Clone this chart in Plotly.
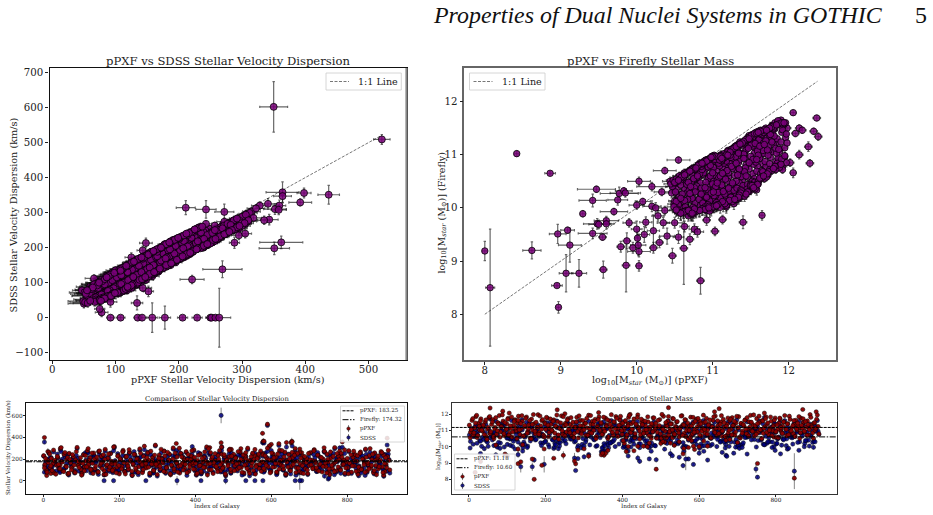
import plotly.graph_objects as go

W, H = 933, 515

# Galaxy catalogue index for the bulk of both samples
galaxy_id = [
    1,4,8,11,15,18,21,25,28,31, 35,38,42,45,48,52,55,59,62,65,
    68,72,75,79,82,85,89,92,96,99, 102,106,109,112,116,119,123,126,129,133,
    136,139,143,146,150,153,156,160,163,166, 170,173,177,180,183,187,190,194,197,200,
    204,207,210,214,217,221,224,227,231,234, 237,241,244,248,251,254,258,261,264,268,
    271,275,278,281,285,288,291,295,298,302, 305,308,312,315,318,322,325,329,332,335,
    339,342,345,349,352,356,359,362,366,369, 372,376,379,383,386,389,393,396,399,403,
    406,410,413,416,420,423,426,430,433,437, 440,443,447,450,453,457,460,464,467,470,
    474,477,480,484,487,491,494,497,501,504, 507,511,514,518,521,524,528,531,534,538,
    541,545,548,551,555,558,561,565,568,572, 575,578,582,585,588,592,595,599,602,605,
    609,612,615,619,622,626,629,632,636,639, 642,646,649,653,656,659,663,666,669,673,
    676,680,683,686,690,693,696,700,703,707, 710,713,717,720,723,727,730,734,737,740,
    744,747,750,754,757,761,764,767,771,774, 777,781,784,788,791,794,798,801,804,808,
    811,815,818,821,825,828,831,835,838,842, 845,848,852,855,858,862,865,869,872,875,
    879,882,885,889,892,896,899,902,906,910,
]
galaxy_id_b = [
    3,6,10,13,17,20,23,27,30,33, 37,40,44,47,50,54,57,61,64,67,
    70,74,77,81,84,87,91,94,98,101, 104,108,111,114,118,121,125,128,131,135,
    138,141,145,148,152,155,158,162,165,168, 172,175,179,182,185,189,192,196,199,202,
    206,209,212,216,219,223,226,229,233,236, 239,243,246,250,253,256,260,263,266,270,
    273,277,280,283,287,290,293,297,300,304, 307,310,314,317,320,324,327,331,334,337,
    341,344,347,351,354,358,361,364,368,371, 374,378,381,385,388,391,395,398,401,405,
    408,412,415,418,422,425,428,432,435,439, 442,445,449,452,455,459,462,466,469,472,
    476,479,482,486,489,493,496,499,503,506, 509,513,516,520,523,526,530,533,536,540,
    543,547,550,553,557,560,563,567,570,574, 577,580,584,587,590,594,597,601,604,607,
    611,614,617,621,624,628,631,634,638,641, 644,648,651,655,658,661,665,668,671,675,
    678,682,685,688,692,695,698,702,705,709, 712,715,719,722,725,729,732,736,739,742,
    746,749,752,756,759,763,766,769,773,776, 779,783,786,790,793,796,800,803,806,810,
    813,817,820,823,827,830,833,837,840,844, 847,850,854,857,860,864,867,871,874,877,
    881,884,887,891,894,898,901,904,908,912,
]

# Stellar velocity dispersion, km/s
sigma_ppxf = [
    231,148,96,187,264,121,205,158,72,183, 142,215,110,298,176,88,243,133,196,60,
    252,165,119,222,84,191,307,139,171,103, 68,238,127,181,276,150,211,94,160,255,
    113,198,77,270,145,226,169,56,289,136, 208,101,248,154,87,315,174,124,234,62,
    192,130,280,82,219,156,106,261,178,49, 145,241,98,203,128,294,166,74,225,186,
    117,257,189,64,152,213,90,328,137,172, 236,108,200,162,272,79,125,184,246,54,
    141,303,92,177,219,131,70,252,159,207, 116,268,195,85,148,229,169,285,104,58,
    188,134,242,76,173,216,122,312,155,99, 259,201,66,143,182,111,233,278,93,167,
    127,223,52,194,149,291,83,175,244,138, 210,105,163,266,120,186,72,228,151,300,
    89,179,135,254,197,61,146,221,112,274, 170,237,100,156,205,129,322,81,190,248,
    126,218,75,161,283,143,192,107,263,57, 183,239,95,134,212,168,297,118,250,86,
    153,71,227,176,110,204,65,139,260,190, 123,287,164,97,232,147,216,80,199,271,
    131,245,174,55,208,114,158,306,91,185, 225,102,253,144,193,69,172,120,277,160,
    78,214,137,240,181,59,126,265,109,202, 166,292,88,150,230,119,195,73,257,141,
    207,109,179,269,128,235,83,154,220,186,
]
sigma_sdss = [
    226,139,104,195,251,108,212,150,80,170, 151,208,94,284,183,96,237,118,204,66,
    246,172,127,205,71,186,296,146,160,112, 58,244,136,190,262,143,201,108,167,231,
    99,204,88,266,131,219,176,52,272,144, 196,116,254,162,74,303,163,109,228,74,
    199,117,271,90,226,141,118,256,185,47, 155,226,82,211,140,281,151,84,233,176,
    126,263,180,55,138,220,102,320,123,181, 221,93,207,170,274,68,112,193,239,62,
    128,290,103,165,229,140,82,243,148,215, 103,259,202,98,157,214,178,276,91,50,
    177,145,249,65,162,222,133,299,164,111, 249,192,78,132,190,120,240,260,80,155,
    116,209,44,201,160,280,70,186,232,148, 218,90,171,258,132,175,60,235,138,288,
    100,188,122,247,184,70,136,229,122,255, 158,224,88,165,214,118,312,92,199,235,
    138,204,64,149,270,153,181,96,251,68, 192,245,107,122,200,177,276,129,241,72,
    142,83,213,165,123,195,56,150,252,178, 111,278,173,84,240,135,206,93,187,262,
    142,236,184,63,219,100,146,294,78,174, 232,115,242,155,183,58,163,107,268,150,
    66,203,148,225,172,70,137,247,96,193, 175,283,76,139,218,130,205,85,250,130,
    198,121,169,255,116,243,95,143,228,195,
]
sigma_ppxf_err = [
    11,9,14,8,12,10,9,13,17,10, 12,8,13,11,9,16,10,12,8,20,
    11,9,14,10,15,8,12,11,9,13, 19,10,12,9,13,11,8,15,10,12,
    14,9,18,11,12,10,9,22,13,11, 8,15,10,12,16,14,9,13,11,21,
    10,12,11,16,9,10,14,12,9,24, 11,10,15,8,13,12,9,18,10,9,
    14,11,8,20,12,9,15,13,11,10, 9,14,8,11,12,17,13,9,10,23,
    11,12,15,10,8,13,19,11,9,8, 14,13,9,16,12,10,9,12,15,21,
    8,12,10,18,9,10,13,12,11,14, 11,9,19,12,9,14,10,13,15,11,
    13,8,24,10,12,14,16,9,11,12, 8,14,11,12,13,9,18,10,12,13,
    15,9,12,10,8,20,12,9,14,12, 10,9,14,11,8,13,14,16,9,11,
    13,8,18,11,13,12,10,14,11,22, 9,10,15,13,8,11,12,13,10,16,
    11,19,9,10,14,8,20,12,11,9, 13,12,10,15,9,12,8,17,9,11,
    12,10,9,23,8,14,10,13,15,9, 8,14,11,12,9,19,10,13,12,11,
    17,8,12,10,9,21,13,11,14,8, 10,12,15,12,9,13,8,18,11,12,
    8,14,9,12,13,10,16,11,9,9,
]
sigma_sdss_err = [
    8,7,9,6,9,8,7,7,10,6, 8,7,9,10,7,10,8,8,6,11,
    9,6,8,7,10,7,11,8,7,9, 11,9,8,7,10,8,6,10,7,9,
    8,7,11,9,8,8,7,12,10,8, 7,9,9,8,10,11,7,9,8,11,
    7,8,10,10,7,8,9,8,7,12, 8,7,10,6,9,10,7,10,8,6,
    9,9,7,11,8,7,10,11,8,7, 8,9,7,7,10,11,9,6,9,12,
    8,10,10,7,7,8,11,9,7,6, 9,10,7,11,8,7,7,10,9,12,
    6,9,8,10,7,7,9,11,8,9, 10,7,11,8,7,9,8,10,9,7,
    9,7,12,7,8,10,10,7,8,8, 7,9,7,9,9,7,11,8,8,10,
    10,6,9,8,7,11,8,7,10,9, 7,8,10,8,7,9,11,10,7,9,
    9,7,11,8,10,8,6,9,10,12, 7,8,10,9,7,7,10,9,8,10,
    8,11,7,8,9,7,11,9,10,7, 8,10,7,10,8,9,7,11,7,9,
    9,8,7,12,7,9,8,11,10,7, 7,10,9,8,7,11,7,9,10,8,
    10,7,9,8,6,12,9,9,10,7, 7,10,10,8,8,9,7,10,9,9,
    7,9,7,9,8,8,10,9,7,7,
]

# Second batch: galaxies spread further from the 1:1 line
sigma_ppxf_b = [
    118,205,78,166,246,137,93,282,187,60, 224,150,110,305,171,84,260,128,214,69,
    195,99,240,143,73,268,176,122,212,51, 158,90,232,128,296,185,105,255,66,201,
    135,218,81,275,162,112,239,197,58,148, 247,125,180,95,310,154,72,226,140,203,
    108,265,168,62,222,134,286,190,87,156, 243,115,199,76,178,253,146,102,318,161,
    214,124,70,272,184,96,236,152,56,208, 133,290,173,85,228,119,262,193,64,144,
    200,110,255,167,79,300,138,220,98,183, 151,74,242,127,191,276,106,215,162,68,
    233,141,88,206,122,266,179,53,295,157, 100,218,169,250,130,83,198,147,310,115,
    240,63,187,136,282,104,226,174,92,209, 155,269,121,196,77,238,143,258,112,182,
    67,221,165,94,288,129,204,245,152,86, 175,113,229,140,300,192,72,256,124,211,
    159,81,247,106,186,278,135,219,60,170, 126,202,91,261,149,234,75,177,116,292,
    208,138,66,223,168,98,251,190,145,111, 275,180,120,237,89,154,213,131,304,164,
    71,197,108,265,142,225,83,172,250,127, 193,97,218,152,284,117,206,64,161,239,
    136,272,180,86,230,125,254,103,199,147, 77,216,170,108,296,141,245,93,185,55,
    228,129,188,258,74,160,212,119,280,99,
]
sigma_sdss_b = [
    78,172,108,188,208,100,125,265,150,88, 245,120,75,268,198,112,222,158,236,52,
    158,130,205,168,95,232,205,88,176,72, 118,122,258,92,255,212,72,218,92,225,
    165,182,58,240,192,140,200,225,80,108, 212,85,145,128,275,185,100,250,102,168,
    138,230,132,84,188,98,250,218,60,188, 268,78,165,55,210,215,112,132,285,125,
    240,155,48,238,150,70,200,180,42,172, 95,255,202,118,195,148,228,160,90,175,
    228,75,220,135,104,262,105,245,130,150, 182,48,205,156,222,242,135,180,128,96,
    258,108,62,172,88,230,208,68,258,122, 135,185,198,215,160,110,165,115,278,82,
    205,82,218,102,248,70,252,140,122,175, 122,235,150,225,52,200,172,222,142,148,
    45,190,195,66,252,96,232,210,118,116, 142,78,255,170,270,160,98,218,155,178,
    188,55,212,138,215,245,100,188,48,138, 158,170,62,225,178,198,50,208,82,258,
    235,108,95,190,135,128,218,158,172,142, 240,210,85,260,118,125,182,162,270,132,
    92,165,138,232,110,252,55,200,212,95, 222,68,185,180,250,148,175,86,130,205,
    168,238,150,115,198,92,222,72,228,116, 48,242,140,134,262,172,210,62,215,78,
    195,160,155,225,100,190,240,88,245,70,
]
sigma_ppxf_err_b = [
    14,9,18,11,10,13,16,9,10,22, 8,12,14,10,9,17,11,13,9,20,
    10,15,9,13,18,12,9,14,8,24, 11,16,9,13,12,8,15,11,19,9,
    13,8,17,12,10,14,9,8,22,12, 10,14,9,15,13,11,19,9,13,8,
    15,11,10,21,8,13,12,9,17,11, 9,14,8,19,9,11,12,15,13,10,
    8,13,20,12,9,16,10,11,23,9, 12,11,9,17,8,14,10,9,20,13,
    8,15,11,10,18,13,12,9,16,9, 11,19,9,13,8,12,14,9,10,21,
    9,12,17,8,14,12,9,24,13,10, 15,8,9,11,13,17,8,12,14,15,
    10,21,9,13,11,16,8,10,16,9, 11,12,14,8,19,9,12,10,15,9,
    20,8,11,16,12,13,9,10,11,17, 9,15,8,12,13,9,19,11,13,8,
    11,18,10,15,9,12,13,8,22,10, 14,8,17,11,12,9,19,10,15,13,
    8,13,20,9,10,16,11,9,12,15, 12,9,14,9,17,11,8,13,14,10,
    19,8,15,12,12,9,18,10,11,14, 9,15,8,12,12,14,10,21,10,9,
    13,11,9,17,8,14,11,15,9,12, 19,8,10,15,13,12,10,16,9,23,
    8,13,9,11,19,10,8,14,12,15,
]
sigma_sdss_err_b = [
    10,7,11,8,9,10,11,7,9,12, 7,9,10,9,8,11,8,10,7,11,
    8,10,7,9,12,9,7,11,6,12, 9,11,7,10,9,7,10,9,11,7,
    10,6,11,9,8,10,7,7,12,9, 8,11,7,10,9,8,12,7,10,6,
    11,8,9,12,7,10,9,7,11,8, 7,10,6,12,7,9,10,11,9,8,
    7,9,12,10,7,11,8,9,12,7, 10,8,7,11,6,10,8,7,12,9,
    7,11,9,8,12,9,10,7,11,7, 9,12,8,9,6,10,11,7,8,11,
    7,9,12,6,10,9,7,12,9,8, 11,7,7,9,10,12,7,10,11,10,
    8,11,7,10,9,11,6,8,10,7, 9,10,9,7,12,8,10,7,10,8,
    12,7,9,11,10,9,7,8,9,11, 8,11,6,9,10,7,11,9,10,7,
    9,11,8,10,7,10,9,6,12,8, 10,7,11,9,9,7,11,8,10,9,
    7,10,12,7,8,11,9,7,9,10, 9,7,10,8,11,8,7,10,10,9,
    11,7,10,10,9,7,11,8,9,10, 7,11,7,9,9,10,8,11,8,7,
    9,9,7,11,7,10,9,10,7,9, 12,7,8,10,9,9,8,11,7,12,
    7,10,8,9,11,8,7,10,9,10,
]

# Catalogue entries that sit away from the main relation
sigma_out_id = [468,590,577,3,905,579,581,654,652,12,490,392,470,780,620,640,655,787,350,600,
                395,305,118,20,9,896,750,752,160,185,270,415,352,480,533,557,578,663,680,675,
                740,290,830,44,495,520,438]
sigma_out_ppxf = [350,521,437,398,392,364,364,362,351,269,221,211,243,272,341,352,359,358,343,335,
                  148,143,125,66,47,50,78,75,92,108,135,142,158,178,206,229,250,252,258,264,
                  134,152,92,143,288,295,305]
sigma_out_sdss = [602,509,351,356,329,358,347,215,198,138,109,314,309,302,325,310,320,308,280,278,
                  213,192,172,112,78,40,15,25,0,0,0,0,0,0,0,0,0,0,0,0,
                  42,75,45,85,214,235,240]
sigma_out_ppxf_err = [22,13,17,11,18,26,14,34,24,31,19,15,16,15,14,18,10,12,14,10,
                      10,9,10,14,10,25,10,8,6,7,6,7,8,9,8,8,7,9,9,18,
                      9,8,10,14,8,12,10]
sigma_out_sdss_err = [72,14,27,14,10,30,18,18,18,24,12,20,25,22,15,15,16,14,15,12,
                      14,12,13,10,10,12,12,15,7,6,7,7,42,33,5,6,6,7,7,84,
                      20,15,15,10,16,12,12]

# Stellar mass, log10(M/Msun)
mass_ppxf = [
    11.32,10.88,11.61,10.72,11.15,11.84,10.56,11.43,11.02,11.71, 10.95,11.27,11.52,10.63,11.09,11.78,10.81,11.36,11.66,10.49,
    11.19,10.77,11.48,11.91,10.91,11.24,11.57,10.68,11.05,11.39, 11.74,10.84,11.12,10.59,11.31,11.63,10.98,11.45,11.87,10.74,
    11.08,11.55,10.66,11.21,11.82,10.93,11.34,10.52,11.69,11.01, 11.41,10.79,11.17,11.96,10.87,11.28,11.59,10.71,11.47,11.06,
    11.76,10.61,11.13,11.37,10.96,11.65,10.83,11.23,11.53,10.46, 11.11,11.89,10.75,11.29,11.43,10.90,11.72,11.03,11.35,10.65,
    11.50,10.82,11.20,11.80,10.54,11.07,11.62,10.97,11.30,11.44, 10.70,11.16,11.93,10.86,11.38,11.56,11.00,11.68,10.62,11.26,
    11.83,10.94,11.42,10.78,11.10,11.75,11.33,10.50,11.58,11.04, 11.22,10.69,11.49,11.85,10.89,11.14,11.64,11.37,10.76,11.01,
    11.54,10.58,11.25,11.79,10.92,11.40,11.06,11.70,10.80,11.31, 11.95,11.18,10.73,11.46,11.60,10.99,11.28,10.85,11.52,11.09,
    10.64,11.35,11.77,11.03,11.44,10.88,11.21,11.66,10.53,11.13, 11.86,10.95,11.32,11.57,10.72,11.08,11.41,11.73,10.81,11.24,
    11.51,11.00,10.60,11.19,11.90,11.36,10.84,11.63,11.15,10.47, 11.27,11.81,10.77,11.43,11.05,11.69,10.91,11.33,11.55,10.67,
    11.12,11.47,10.83,11.74,11.02,11.39,10.55,11.23,11.61,10.97, 11.88,10.74,11.29,11.11,11.50,10.93,11.67,11.20,10.63,11.37,
    10.86,11.59,11.07,11.78,11.30,10.70,11.46,11.16,11.84,10.52, 11.42,10.96,11.25,11.65,10.79,11.10,11.53,11.92,11.00,11.34,
    10.66,11.18,11.72,10.90,11.48,11.04,11.60,10.82,11.22,11.83, 11.38,10.75,11.14,11.56,10.98,11.31,11.76,10.58,11.06,11.44,
    11.70,10.87,11.26,11.52,11.09,10.68,11.41,11.87,10.94,11.17, 10.80,11.35,11.62,11.03,11.28,10.51,11.75,11.13,11.49,10.92,
    11.21,11.58,10.71,11.97,11.33,10.85,11.45,11.01,11.68,11.24,
]
mass_firefly = [
    10.71,10.32,11.12,10.15,10.62,11.23,10.21,10.94,10.38,11.31, 10.58,10.44,10.87,10.36,10.27,11.05,10.56,10.66,10.83,10.07,
    10.81,10.09,10.73,11.42,10.22,10.95,11.27,9.98,10.71,10.52, 11.08,10.47,10.49,10.52,10.33,10.97,10.74,11.15,10.91,10.61,
    10.13,11.03,10.28,10.58,11.49,10.04,10.85,10.35,11.18,10.51, 10.63,10.41,10.91,11.32,10.63,10.24,10.78,10.24,11.21,10.35,
    10.95,10.12,10.76,11.02,10.44,11.37,10.19,10.41,10.64,10.28, 10.24,11.11,10.53,10.87,10.39,10.72,11.44,10.61,10.47,10.46,
    10.97,10.29,10.35,11.19,10.07,10.84,10.93,10.14,11.06,10.81, 10.41,10.67,11.55,10.11,10.59,11.14,10.45,11.02,10.58,10.74,
    10.87,10.55,11.04,9.96,10.19,11.36,11.11,10.13,10.69,10.23, 10.29,10.33,10.45,11.30,10.81,10.99,11.25,10.70,10.38,10.76,
    10.82,10.43,11.06,11.41,10.31,10.42,10.52,10.77,10.67,10.50, 11.13,10.17,10.18,10.58,11.33,10.89,10.33,10.37,11.16,10.79,
    10.02,10.90,11.27,10.08,11.09,10.66,10.66,11.08,10.50,10.39, 10.94,10.28,10.37,10.86,10.49,10.57,11.01,10.99,10.74,10.21,
    11.20,10.18,10.26,10.70,11.24,10.25,10.05,10.64,10.84,10.40, 10.92,11.35,10.30,10.75,10.92,10.87,10.48,10.98,10.55,10.16,
    10.43,11.12,10.64,11.17,10.23,11.18,10.06,10.83,11.28,10.60, 11.06,10.01,10.61,11.00,10.33,10.35,11.22,10.50,10.14,10.34,
    10.72,11.07,10.29,11.24,10.96,10.27,10.44,10.26,11.03,10.12, 10.68,10.13,10.78,10.70,10.57,10.60,10.91,11.47,10.66,11.03,
    10.44,10.88,11.09,10.38,10.85,10.40,10.99,10.16,10.12,11.12, 10.21,10.55,10.31,11.21,10.28,10.84,11.38,10.18,10.47,10.60,
    11.26,10.09,10.47,10.50,10.86,10.48,10.93,11.10,10.77,10.54, 10.60,10.73,11.16,10.88,11.13,10.30,10.83,10.65,11.29,10.20,
    10.37,10.91,10.40,11.39,10.62,10.26,10.35,10.30,11.19,10.95,
]
mass_ppxf_err = [
    .04,.05,.03,.06,.04,.03,.07,.04,.05,.03, .05,.04,.03,.06,.05,.03,.06,.04,.03,.08,
    .04,.06,.03,.03,.05,.04,.03,.07,.05,.04, .03,.06,.04,.07,.04,.03,.05,.04,.03,.06,
    .05,.03,.07,.04,.03,.05,.04,.08,.03,.05, .04,.06,.04,.03,.05,.04,.03,.06,.04,.05,
    .03,.07,.05,.04,.05,.03,.06,.04,.03,.09, .05,.03,.06,.04,.04,.05,.03,.05,.04,.07,
    .03,.06,.04,.03,.08,.05,.03,.05,.04,.04, .06,.05,.03,.06,.04,.03,.05,.03,.07,.04,
    .03,.05,.04,.06,.05,.03,.04,.08,.03,.05, .04,.07,.03,.03,.05,.05,.03,.04,.06,.05,
    .03,.07,.04,.03,.05,.04,.05,.03,.06,.04, .03,.05,.06,.04,.03,.05,.04,.05,.03,.05,
    .07,.04,.03,.05,.04,.05,.04,.03,.08,.05, .03,.05,.04,.03,.06,.05,.04,.03,.06,.04,
    .03,.05,.07,.04,.03,.04,.06,.03,.05,.09, .04,.03,.06,.04,.05,.03,.05,.04,.03,.07,
    .05,.04,.06,.03,.05,.04,.08,.04,.03,.05, .03,.06,.04,.05,.03,.05,.03,.04,.07,.04,
    .06,.03,.05,.03,.04,.07,.04,.05,.03,.08, .04,.05,.04,.03,.06,.05,.03,.03,.05,.04,
    .07,.04,.03,.05,.04,.03,.03,.06,.05,.03, .04,.06,.05,.03,.05,.04,.03,.07,.05,.04,
    .03,.06,.04,.04,.05,.07,.04,.03,.05,.05, .06,.04,.03,.05,.04,.08,.03,.05,.04,.05,
    .04,.03,.06,.03,.04,.06,.04,.05,.03,.04,
]
mass_firefly_err = [
    .06,.07,.04,.09,.05,.05,.10,.04,.08,.05, .07,.06,.05,.09,.06,.04,.08,.05,.06,.12,
    .05,.10,.06,.04,.09,.05,.04,.13,.05,.07, .05,.08,.07,.09,.06,.05,.06,.04,.05,.07,
    .11,.04,.09,.06,.04,.12,.05,.10,.05,.07, .06,.08,.05,.05,.07,.08,.06,.10,.04,.08,
    .05,.11,.06,.05,.08,.04,.10,.07,.06,.09, .08,.05,.07,.05,.08,.06,.04,.07,.06,.09,
    .05,.09,.08,.05,.12,.05,.06,.11,.05,.06, .08,.06,.04,.12,.07,.05,.07,.05,.09,.06,
    .06,.08,.05,.13,.10,.04,.05,.11,.06,.09, .08,.09,.07,.05,.06,.05,.04,.06,.09,.06,
    .05,.10,.05,.04,.08,.07,.07,.06,.07,.08, .05,.11,.11,.07,.05,.06,.08,.08,.05,.06,
    .12,.05,.04,.11,.05,.07,.06,.05,.09,.08, .06,.09,.08,.06,.08,.07,.05,.05,.06,.10,
    .05,.11,.09,.06,.04,.09,.12,.06,.05,.09, .05,.04,.09,.06,.05,.06,.08,.05,.07,.11,
    .08,.05,.07,.04,.10,.05,.12,.05,.05,.06, .05,.13,.06,.07,.08,.08,.04,.07,.10,.08,
    .06,.05,.10,.04,.05,.11,.06,.07,.05,.12, .07,.11,.05,.06,.07,.07,.05,.04,.07,.05,
    .09,.06,.05,.09,.05,.08,.05,.11,.11,.05, .09,.07,.09,.04,.10,.06,.04,.11,.08,.07,
    .04,.12,.07,.06,.05,.08,.05,.05,.06,.07, .07,.06,.05,.06,.04,.10,.06,.07,.04,.10,
    .08,.06,.09,.04,.06,.09,.07,.09,.05,.05,
]

# Second batch, covering the full width of the mass relation
mass_ppxf_b = [
    10.55,11.05,11.72,10.85,11.45,11.92,10.68,11.25,11.58,11.02, 11.33,10.74,11.64,10.45,11.18,11.85,10.92,11.52,10.62,11.10,
    11.78,10.98,11.38,10.58,11.22,11.95,10.80,11.48,11.08,11.68, 10.70,11.28,11.82,10.90,11.55,11.15,10.50,11.62,11.03,11.42,
    11.90,10.65,11.30,11.75,10.82,11.12,11.60,10.48,11.36,11.97, 10.95,11.50,11.20,10.76,11.88,11.07,11.66,10.60,11.40,11.80,
    11.32,10.87,11.70,11.01,11.56,10.53,11.26,11.94,10.72,11.14, 11.46,10.97,11.84,10.66,11.34,11.63,11.09,10.85,11.78,11.23,
    10.57,11.17,11.52,10.92,11.89,11.29,10.78,11.60,11.04,11.43, 11.73,10.69,11.12,11.91,10.83,11.37,11.55,10.49,11.19,11.67,
    11.02,11.47,10.75,11.81,10.94,11.24,11.65,10.61,11.36,11.96, 10.88,11.53,11.10,11.74,10.63,11.31,11.86,10.99,11.44,11.16,
    11.60,10.73,11.27,11.92,10.86,11.08,11.50,10.56,11.39,11.79, 11.13,10.96,11.69,11.35,10.81,11.57,11.05,11.83,10.67,11.21,
    11.42,10.91,11.77,11.18,10.52,11.61,11.29,10.79,11.98,11.07, 10.64,11.48,11.24,11.85,10.93,11.38,11.03,11.71,10.75,11.15,
    11.54,10.84,11.11,11.88,10.69,11.33,11.66,10.98,11.45,11.00, 10.59,11.26,11.80,10.89,11.56,11.19,11.73,10.71,11.40,10.95,
    11.93,11.06,11.51,10.77,11.32,11.64,10.54,11.22,11.83,10.87, 11.14,11.59,10.80,11.37,11.90,10.97,11.47,10.62,11.25,11.76,
    11.01,11.68,10.72,11.30,11.55,10.90,11.86,11.16,10.58,11.43, 10.83,11.35,11.62,11.09,11.78,10.66,11.20,11.50,10.94,11.95,
    11.28,10.76,11.41,11.87,11.04,10.50,11.58,11.13,11.72,10.88, 11.46,11.00,11.82,10.68,11.23,11.63,10.92,11.34,10.55,11.75,
    11.18,10.81,11.52,11.91,11.07,11.39,10.73,11.67,10.98,11.29, 11.60,10.63,11.10,11.44,11.84,10.86,11.31,11.71,10.95,11.54,
    10.70,11.36,11.05,11.80,11.20,10.52,11.48,11.12,11.94,10.78,
]
mass_firefly_b = [
    9.92,10.95,10.62,10.82,11.28,10.78,10.68,11.05,10.34,10.02, 11.16,9.88,11.38,10.45,10.02,10.84,10.86,10.41,10.64,10.90,
    11.55,9.97,10.26,9.90,11.02,10.96,10.78,11.36,10.84,10.55, 10.70,10.08,11.60,10.02,10.48,10.94,10.47,11.40,10.93,11.22,
    11.65,9.95,10.15,10.72,9.95,10.88,11.44,10.52,11.24,10.85, 10.92,10.44,11.08,10.72,10.80,10.07,10.68,10.62,10.30,11.48,
    11.18,9.98,11.50,10.97,10.40,9.98,10.12,11.58,9.88,10.04, 11.32,10.80,10.75,10.66,10.18,11.46,10.98,10.78,10.70,10.99,
    10.56,10.96,11.38,9.95,11.56,11.14,9.93,10.50,10.04,10.28, 10.62,10.68,10.90,10.92,10.84,11.20,10.42,10.02,10.06,11.42,
    10.99,11.30,9.92,11.52,10.06,11.10,10.58,9.93,10.22,11.60, 10.85,11.34,10.01,10.68,10.66,10.16,11.62,10.97,11.26,10.08,
    10.45,10.74,11.12,10.72,9.98,10.93,10.36,10.60,11.22,11.54, 10.98,9.94,10.60,11.20,10.81,11.42,10.10,10.78,9.94,11.06,
    10.22,10.90,11.52,10.05,10.54,10.52,11.15,10.76,11.22,10.95, 10.63,11.33,10.20,11.58,10.91,10.32,10.91,10.58,10.74,11.02,
    10.42,10.82,10.98,10.76,9.96,11.18,11.46,10.00,11.28,10.97, 10.58,11.10,11.50,10.88,10.36,10.12,11.48,9.90,11.24,10.03,
    11.60,10.06,11.36,10.73,11.14,10.56,10.50,10.14,10.72,10.83, 10.96,10.44,10.78,10.28,10.82,10.93,10.30,9.92,11.10,11.50,
    10.02,11.47,10.71,11.16,11.40,9.97,11.64,10.08,9.90,11.28, 9.95,10.24,10.56,10.90,11.52,10.65,11.06,10.42,10.90,10.98,
    11.12,9.98,11.25,11.58,10.97,10.48,11.40,10.12,10.64,10.85, 10.30,10.96,10.78,9.95,11.05,11.44,10.88,10.20,10.52,11.50,
    11.00,10.80,10.42,11.60,10.06,11.22,9.90,10.60,10.95,10.16, 11.42,10.62,10.96,10.26,11.56,10.84,11.15,11.46,10.00,10.38,
    10.69,11.20,10.04,10.74,10.99,9.96,11.30,10.93,11.60,10.75,
]
mass_ppxf_err_b = [
    .08,.04,.03,.05,.04,.03,.07,.04,.03,.05, .04,.06,.03,.09,.04,.03,.05,.03,.07,.05,
    .03,.05,.04,.08,.05,.03,.06,.04,.05,.03, .07,.04,.03,.05,.03,.04,.09,.03,.05,.04,
    .03,.07,.05,.03,.06,.05,.03,.09,.04,.03, .05,.03,.04,.06,.03,.05,.03,.08,.04,.03,
    .04,.06,.03,.05,.03,.08,.04,.03,.07,.05, .04,.05,.03,.07,.04,.03,.05,.06,.03,.04,
    .08,.04,.03,.05,.03,.04,.06,.03,.05,.04, .03,.07,.05,.03,.06,.04,.03,.09,.04,.03,
    .05,.03,.06,.03,.05,.04,.03,.08,.04,.03, .06,.03,.05,.03,.07,.04,.03,.05,.03,.05,
    .03,.06,.04,.03,.06,.05,.03,.08,.04,.03, .05,.05,.03,.04,.06,.03,.05,.03,.07,.04,
    .04,.05,.03,.04,.09,.03,.04,.06,.03,.05, .07,.03,.04,.03,.05,.04,.05,.03,.06,.04,
    .03,.06,.05,.03,.07,.04,.03,.05,.03,.05, .08,.04,.03,.05,.03,.04,.03,.07,.04,.05,
    .03,.05,.03,.06,.04,.03,.08,.04,.03,.06, .05,.03,.06,.04,.03,.05,.03,.07,.04,.03,
    .05,.03,.07,.04,.03,.05,.03,.04,.08,.04, .06,.04,.03,.05,.03,.07,.04,.03,.05,.03,
    .04,.06,.04,.03,.05,.09,.03,.04,.03,.05, .03,.05,.03,.07,.04,.03,.05,.04,.08,.03,
    .04,.06,.03,.03,.05,.04,.06,.03,.05,.04, .03,.07,.05,.03,.03,.06,.04,.03,.05,.03,
    .07,.04,.05,.03,.04,.09,.03,.05,.03,.06,
]
mass_firefly_err_b = [
    .12,.05,.07,.06,.05,.08,.07,.05,.10,.11, .05,.13,.04,.08,.12,.07,.05,.09,.06,.05,
    .04,.12,.10,.13,.05,.08,.06,.04,.05,.07, .07,.11,.04,.11,.08,.05,.08,.04,.05,.05,
    .04,.12,.11,.07,.12,.05,.04,.08,.05,.08, .05,.09,.05,.06,.07,.10,.07,.07,.10,.04,
    .05,.11,.04,.05,.09,.12,.10,.04,.13,.11, .05,.06,.08,.07,.11,.04,.05,.07,.07,.05,
    .08,.05,.04,.12,.04,.05,.12,.08,.11,.10, .07,.07,.06,.06,.07,.05,.09,.11,.10,.04,
    .05,.04,.12,.04,.11,.05,.07,.12,.10,.04, .06,.04,.11,.07,.07,.10,.04,.05,.05,.10,
    .09,.07,.05,.07,.12,.05,.10,.06,.05,.04, .05,.12,.07,.05,.06,.04,.10,.07,.12,.05,
    .10,.05,.04,.11,.08,.08,.05,.07,.06,.05, .07,.04,.10,.04,.05,.09,.05,.07,.07,.05,
    .09,.06,.05,.07,.12,.05,.04,.11,.05,.05, .07,.05,.04,.06,.09,.10,.04,.13,.05,.11,
    .04,.11,.04,.07,.05,.07,.08,.10,.07,.06, .05,.09,.07,.09,.07,.05,.09,.12,.05,.11,
    .11,.04,.07,.05,.04,.12,.04,.10,.13,.05, .12,.10,.07,.05,.04,.07,.05,.09,.05,.07,
    .05,.12,.05,.04,.05,.08,.04,.10,.07,.06, .09,.05,.07,.12,.05,.04,.05,.10,.08,.04,
    .05,.07,.09,.04,.11,.05,.13,.07,.05,.10, .04,.07,.05,.10,.04,.06,.05,.04,.11,.09,
    .07,.05,.11,.07,.05,.12,.05,.05,.04,.07,
]

# Low-mass and scattered entries of the stellar-mass comparison
mass_out_id = [170,848,16,488,190,278,752,128,30,135,275,165,221,100,246,312,352,345,94,558,
               356,348,410,430,362,284,588,128,196,300,560,572,585,600,415,440,622,455,465,535,
               70,140,500,405,470,525,510,548,505,580,402,670,680,445,475,515,530,565,660,672,
               690,725,748,798,812,860,415,120,770,55,652,520,870,230,105,905,338,640,88,250,
               420,700,612,795,830]
mass_out_ppxf = [8.00,8.07,8.42,8.62,8.86,8.95,8.97,8.96,9.09,9.07,9.12,9.24,9.29,9.42,9.47,9.42,9.48,9.50,9.55,9.56,
                 9.60,9.60,9.70,9.75,9.77,9.79,9.83,9.85,9.86,9.87,9.90,9.95,10.03,10.00,10.01,10.02,10.03,10.03,10.00,10.08,
                 10.10,10.12,10.20,10.20,10.22,10.22,10.28,10.30,10.33,10.37,10.37,10.40,10.44,10.47,10.50,10.55,10.55,10.62,10.63,10.70,
                 10.76,10.80,10.84,10.92,11.03,11.13,11.40,11.65,12.06,12.37,12.33,12.39,12.28,12.26,12.06,12.14,12.09,12.14,12.18,12.02,
                 11.98,10.25,10.35,10.58,10.68]
mass_out_firefly = [9.19,8.50,11.02,9.20,10.65,8.54,8.13,9.51,9.58,8.77,9.30,8.77,9.89,10.14,10.35,9.52,9.70,9.69,9.45,8.84,
                    9.76,9.70,9.93,10.15,10.27,9.27,10.32,10.28,8.92,9.38,9.72,9.25,8.91,9.60,9.43,9.30,9.18,10.50,10.05,10.12,
                    9.50,9.73,10.40,10.03,9.25,9.57,9.85,9.35,10.30,10.70,9.95,9.47,10.50,9.10,9.72,10.90,9.45,9.24,9.65,9.41,
                    9.60,9.55,8.63,9.77,9.56,9.78,9.73,9.86,11.79,11.69,11.44,11.34,10.84,11.15,10.66,11.00,11.40,11.50,11.46,10.85,
                    11.50,10.00,9.72,10.00,9.85]
mass_out_ppxf_err = [.03,.06,.03,.12,.07,.07,.03,.11,.09,.09,.15,.10,.03,.18,.25,.19,.18,.13,.05,.05,
                     .16,.10,.18,.13,.25,.05,.11,.20,.05,.05,.08,.05,.04,.07,.03,.10,.15,.15,.10,.10,
                     .07,.08,.20,.12,.05,.08,.08,.05,.10,.15,.10,.10,.10,.05,.10,.15,.07,.05,.06,.05,
                     .07,.08,.05,.05,.05,.05,.05,.03,.04,.05,.05,.05,.05,.05,.04,.05,.05,.05,.05,.05,
                     .05,.08,.08,.08,.06]
mass_out_firefly_err = [.18,1.10,.05,.16,.03,.03,.11,.18,.06,.35,.32,.26,.06,.12,.06,.10,.10,.08,.06,.16,
                        .08,.10,.06,.10,.12,.10,.06,.08,.50,.15,.08,.10,.10,.15,.14,.20,.10,.08,.08,.06,
                        .15,.10,.08,.10,.10,.30,.10,.10,.07,.06,.08,.15,.08,.14,.10,.06,.12,.68,.10,.10,
                        .10,.10,.25,.10,.08,.08,.12,.09,.05,.05,.06,.07,.07,.09,.09,.08,.06,.06,.06,.07,
                        .07,.10,.10,.10,.10]

# Reference lines and their legend values
ppxf_mean_sigma, firefly_mean_sigma = 183.25, 174.32
ppxf_mean_mass, firefly_mean_mass = 11.18, 10.60
one_to_one_sigma = [47, 521]
one_to_one_mass = [8.0, 12.38]

PURPLE = "rgba(120,0,120,0.85)"
RED = "rgba(139,0,0,0.95)"
NAVY = "rgba(0,0,128,0.85)"
EDGE = "rgba(0,0,0,0.95)"
ERR = "rgba(0,0,0,0.6)"
SERIF = "DejaVu Serif"
DASH = "3px,1px"
DASHDOT = "6px,1.5px,1.5px,1.5px"
ONE_DASH = "3px,1.5px"

ids_sigma = sigma_out_id + galaxy_id + galaxy_id_b
s_x = sigma_out_ppxf + sigma_ppxf + sigma_ppxf_b
s_y = sigma_out_sdss + sigma_sdss + sigma_sdss_b
s_xe = sigma_out_ppxf_err + sigma_ppxf_err + sigma_ppxf_err_b
s_ye = sigma_out_sdss_err + sigma_sdss_err + sigma_sdss_err_b

ids_mass = mass_out_id + galaxy_id + galaxy_id_b
m_x = mass_out_ppxf + mass_ppxf + mass_ppxf_b
m_y = mass_out_firefly + mass_firefly + mass_firefly_b
m_xe = mass_out_ppxf_err + mass_ppxf_err + mass_ppxf_err_b
m_ye = mass_out_firefly_err + mass_firefly_err + mass_firefly_err_b


def px(x):
    return x / W


def py(y):
    return 1 - y / H


def err(values, width, thick):
    return dict(type="data", array=values, color=ERR, thickness=thick, width=width)


def axis(kind, domain, rng, dtick, size, anchor, color="#111", lw=1.4, pull=-3):
    return dict(
        domain=[px(domain[0]), px(domain[1])] if kind == "x" else [py(domain[1]), py(domain[0])],
        range=rng, anchor=anchor, showgrid=False, zeroline=False, showline=True, mirror=True,
        linecolor=color, linewidth=lw, ticks="outside", ticklen=3 if size > 7 else 2,
        tickwidth=1 if size > 7 else 0.6, tickcolor="#222", dtick=dtick, tick0=0,
        tickfont=dict(family=SERIF, size=size, color="#222"), ticklabelstandoff=pull,
        automargin=False,
    )


fig = go.Figure()

# Upper panels: one catalogue against the other
fig.add_trace(go.Scatter(x=one_to_one_sigma, y=one_to_one_sigma, mode="lines", name="1:1 Line", showlegend=False,
                         line=dict(color="#777", width=1, dash=ONE_DASH), xaxis="x", yaxis="y"))
fig.add_trace(go.Scatter(x=s_x, y=s_y, mode="markers", showlegend=False, xaxis="x", yaxis="y",
                         marker=dict(size=7, color=PURPLE, line=dict(color=EDGE, width=0.8)),
                         error_x=err(s_xe, 1.2, 1.2), error_y=err(s_ye, 1.2, 1.2)))
fig.add_trace(go.Scatter(x=one_to_one_mass, y=one_to_one_mass, mode="lines", name="1:1 Line", showlegend=False,
                         line=dict(color="#777", width=1, dash=ONE_DASH), xaxis="x2", yaxis="y2"))
fig.add_trace(go.Scatter(x=m_x, y=m_y, mode="markers", showlegend=False, xaxis="x2", yaxis="y2",
                         marker=dict(size=6.5, color=PURPLE, line=dict(color=EDGE, width=0.8)),
                         error_x=err(m_xe, 1.2, 1.2), error_y=err(m_ye, 1.2, 1.2)))

# Lower panels: both catalogues against galaxy index
fig.add_trace(go.Scatter(x=ids_sigma, y=s_y, mode="markers", name="SDSS", showlegend=False, xaxis="x3", yaxis="y3",
                         marker=dict(size=4.2, color=NAVY, line=dict(color=EDGE, width=0.5)),
                         error_y=err(s_ye, 0, 0.8)))
fig.add_trace(go.Scatter(x=ids_sigma, y=s_x, mode="markers", name="pPXF", showlegend=False, xaxis="x3", yaxis="y3",
                         marker=dict(size=4.2, color=RED, line=dict(color=EDGE, width=0.5)),
                         error_y=err(s_xe, 0, 0.8)))
fig.add_trace(go.Scatter(x=ids_mass, y=m_y, mode="markers", name="SDSS", showlegend=False, xaxis="x4", yaxis="y4",
                         marker=dict(size=4.2, color=NAVY, line=dict(color=EDGE, width=0.5)),
                         error_y=err(m_ye, 0, 0.8)))
fig.add_trace(go.Scatter(x=ids_mass, y=m_x, mode="markers", name="pPXF", showlegend=False, xaxis="x4", yaxis="y4",
                         marker=dict(size=4.2, color=RED, line=dict(color=EDGE, width=0.5)),
                         error_y=err(m_xe, 0, 0.8)))

shapes, notes = [], []


def note(x, y, text, size, color="#222", xanchor="center", family=SERIF, angle=0):
    notes.append(dict(x=px(x), y=py(y), xref="paper", yref="paper", text=text, showarrow=False,
                      xanchor=xanchor, yanchor="middle", textangle=angle,
                      font=dict(family=family, size=size, color=color), borderpad=0))


def mean_line(axis_y, value, dash):
    shapes.append(dict(type="line", xref=f"{axis_y.replace('y', 'x')} domain", yref=axis_y, x0=0, x1=1,
                       y0=value, y1=value, line=dict(color="#000", width=1, dash=dash)))


mean_line("y3", ppxf_mean_sigma, DASH)
mean_line("y3", firefly_mean_sigma, DASHDOT)
mean_line("y4", ppxf_mean_mass, DASH)
mean_line("y4", firefly_mean_mass, DASHDOT)


def key_box(x0, y0, x1, y1):
    shapes.append(dict(type="rect", xref="paper", yref="paper", x0=px(x0), x1=px(x1), y0=py(y0), y1=py(y1),
                       fillcolor="rgba(255,255,255,0.85)", line=dict(color="#ccc", width=0.8), layer="above"))


def small_legend(x0, y0, x1, y1, entries):
    """Draw a compact key for a lower panel: box, sample marks and labels."""
    key_box(x0, y0, x1, y1)
    for i, (label, kind) in enumerate(entries):
        cy = y0 + 4.8 + i * 8.9
        if kind in (DASH, DASHDOT):
            shapes.append(dict(type="line", xref="paper", yref="paper", x0=px(x0 + 2), x1=px(x0 + 14),
                               y0=py(cy), y1=py(cy), line=dict(color="#000", width=1, dash=kind)))
        else:
            cx = x0 + 8
            shapes.append(dict(type="line", xref="paper", yref="paper", x0=px(cx), x1=px(cx),
                               y0=py(cy - 3.5), y1=py(cy + 3.5), line=dict(color="rgba(0,0,0,0.6)", width=0.8)))
            shapes.append(dict(type="circle", xref="paper", yref="paper", x0=px(cx - 1.7), x1=px(cx + 1.7),
                               y0=py(cy - 1.7), y1=py(cy + 1.7), fillcolor=kind, line=dict(color="#000", width=0.5)))
        note(x0 + 18, cy, label, 5.6, xanchor="left")


def one_to_one_key(x0, x1):
    key_box(x0, 73, x1, 90)
    shapes.append(dict(type="line", xref="paper", yref="paper", x0=px(x0 + 4), x1=px(x0 + 23),
                       y0=py(81.5), y1=py(81.5), line=dict(color="#777", width=1, dash=ONE_DASH)))
    note(x0 + 31, 81.5, "1:1 Line", 9.6, xanchor="left")


one_to_one_key(326, 401.3)
one_to_one_key(469.5, 545)
small_legend(340.5, 406, 404.5, 442, [
    (f"pPXF: {ppxf_mean_sigma:.2f}", DASH),
    (f"Firefly: {firefly_mean_sigma:.2f}", DASHDOT),
    ("pPXF", RED),
    ("SDSS", NAVY),
])
small_legend(454.5, 454, 515, 490, [
    (f"pPXF: {ppxf_mean_mass:.2f}", DASH),
    (f"Firefly: {firefly_mean_mass:.2f}", DASHDOT),
    ("pPXF", RED),
    ("SDSS", NAVY),
])

# Heavier right-hand edge of the first panel
shapes.append(dict(type="line", xref="paper", yref="paper", x0=px(406.5), x1=px(406.5), y0=py(68), y1=py(360),
                   line=dict(color="#888", width=2.2), layer="above"))

# Panel titles and the running page header
note(228, 61.5, "pPXF vs SDSS Stellar Velocity Dispersion", 11.6)
note(650, 61.5, "pPXF vs Firefly Stellar Mass", 11.6)
note(216.5, 399, "Comparison of Stellar Velocity Dispersion", 6.8)
note(644, 399, "Comparison of Stellar Mass", 6.9)
note(432, 15, "<i>Properties of Dual Nuclei Systems in GOTHIC</i>", 23.9, color="#111",
     xanchor="left", family="Liberation Serif")
note(928, 15, "5", 23.9, color="#111", xanchor="right", family="Liberation Serif")

# Axis titles
MASS_X = "log<sub>10</sub>[M<sub><i>star</i></sub> (M<sub>⊙</sub>)] (pPXF)"
MASS_Y = "log<sub>10</sub>[M<sub><i>star</i></sub> (M<sub>⊙</sub>)] (Firefly)"
MASS_Y2 = "log<sub>10</sub>[M<sub><i>star</i></sub> (M<sub>⊙</sub>)]"
note(228, 379, "pPXF Stellar Velocity Dispersion (km/s)", 9.7)
note(12.5, 215, "SDSS Stellar Velocity Dispersion (km/s)", 9.7, angle=-90)
note(649.5, 380, MASS_X, 9.5)
note(441.5, 213, MASS_Y, 9.5, angle=-90)
note(217, 506, "Index of Galaxy", 5.8)
note(8, 448, "Stellar Velocity Dispersion (km/s)", 5.6, angle=-90)
note(644, 506, "Index of Galaxy", 5.8)
note(438, 447, MASS_Y2, 5.6, angle=-90)

fig.update_layout(
    width=W, height=H, margin=dict(l=0, r=0, t=0, b=0), autosize=False, showlegend=False,
    paper_bgcolor="white", plot_bgcolor="white", shapes=shapes, annotations=notes,
    xaxis=axis("x", (49.5, 406.5), [-4.4, 560], 100, 10.2, "y"),
    yaxis=axis("y", (68, 360), [-121, 713], 100, 10.2, "x", pull=0),
    xaxis2=axis("x", (464.3, 835.7), [7.73, 12.62], 1, 10.2, "y2", color="#666", lw=1.5),
    yaxis2=axis("y", (68, 360), [7.14, 12.63], 1, 10.2, "x2", color="#666", lw=1.5, pull=0),
    xaxis3=axis("x", (26, 407.3), [-45.5, 958], 200, 5.8, "y3", pull=-2),
    yaxis3=axis("y", (403.3, 494), [-123, 714], 200, 5.8, "x3", pull=-1),
    xaxis4=axis("x", (451.7, 837.3), [-45, 960], 200, 5.8, "y4", color="#333", pull=-2),
    yaxis4=axis("y", (403.3, 494), [7.1, 12.66], 1, 5.8, "x4", color="#333", pull=-1),
)

fig.write_html("out.html")
